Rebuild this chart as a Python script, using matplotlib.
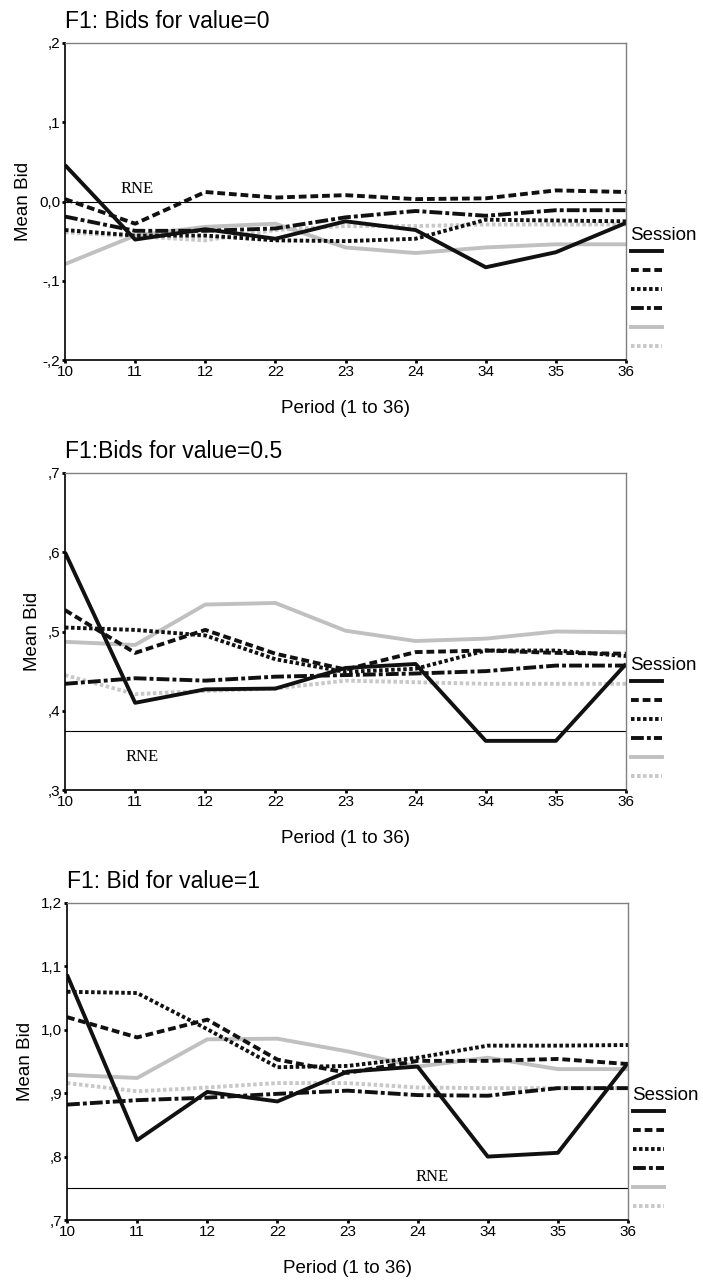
import matplotlib
matplotlib.use('Agg')
import matplotlib.pyplot as plt
from matplotlib.lines import Line2D

plt.rcParams['font.family'] = ['Liberation Sans', 'DejaVu Sans']

# ---------------- data ----------------
periods = ['10', '11', '12', '22', '23', '24', '34', '35', '36']

# value = 0
v0_s1 = [0.046, -0.048, -0.035, -0.047, -0.025, -0.036, -0.083, -0.064, -0.027]
v0_s2 = [0.003, -0.028, 0.012, 0.005, 0.008, 0.003, 0.004, 0.014, 0.012]
v0_s3 = [-0.036, -0.043, -0.043, -0.049, -0.050, -0.047, -0.023, -0.024, -0.025]
v0_s4 = [-0.019, -0.037, -0.037, -0.034, -0.020, -0.012, -0.018, -0.011, -0.011]
v0_s5 = [-0.079, -0.043, -0.032, -0.028, -0.058, -0.065, -0.058, -0.054, -0.054]
v0_s6 = [-0.039, -0.044, -0.049, -0.036, -0.031, -0.031, -0.029, -0.029, -0.029]

# value = 0.5
v5_s1 = [0.600, 0.410, 0.427, 0.428, 0.454, 0.459, 0.362, 0.362, 0.459]
v5_s2 = [0.527, 0.473, 0.502, 0.472, 0.452, 0.474, 0.476, 0.473, 0.472]
v5_s3 = [0.505, 0.502, 0.495, 0.465, 0.449, 0.453, 0.476, 0.476, 0.469]
v5_s4 = [0.434, 0.441, 0.438, 0.443, 0.445, 0.447, 0.450, 0.457, 0.457]
v5_s5 = [0.487, 0.483, 0.534, 0.536, 0.501, 0.488, 0.491, 0.500, 0.499]
v5_s6 = [0.445, 0.421, 0.425, 0.428, 0.438, 0.436, 0.434, 0.434, 0.434]

# value = 1
v1_s1 = [1.087, 0.826, 0.902, 0.887, 0.934, 0.942, 0.800, 0.806, 0.948]
v1_s2 = [1.020, 0.988, 1.016, 0.953, 0.932, 0.951, 0.951, 0.954, 0.946]
v1_s3 = [1.060, 1.058, 1.001, 0.941, 0.943, 0.956, 0.975, 0.975, 0.976]
v1_s4 = [0.882, 0.889, 0.893, 0.899, 0.904, 0.897, 0.896, 0.908, 0.908]
v1_s5 = [0.929, 0.924, 0.985, 0.986, 0.966, 0.942, 0.956, 0.938, 0.938]
v1_s6 = [0.916, 0.903, 0.909, 0.916, 0.916, 0.909, 0.908, 0.908, 0.908]

titles = ['F1: Bids for value=0', 'F1:Bids for value=0.5', 'F1: Bid for value=1']
rne_values = [0.0, 0.375, 0.75]
rne_label_pos = [(1.03, 0.016), (1.1, 0.342), (5.2, 0.768)]

yticks0 = [-0.2, -0.1, 0.0, 0.1, 0.2]
yticklabels0 = ['-,2', '-,1', '0,0', ',1', ',2']
yticks5 = [0.3, 0.4, 0.5, 0.6, 0.7]
yticklabels5 = [',3', ',4', ',5', ',6', ',7']
yticks1 = [0.7, 0.8, 0.9, 1.0, 1.1, 1.2]
yticklabels1 = [',7', ',8', ',9', '1,0', '1,1', '1,2']

panels = [
    ([v0_s1, v0_s2, v0_s3, v0_s4, v0_s5, v0_s6], yticks0, yticklabels0),
    ([v5_s1, v5_s2, v5_s3, v5_s4, v5_s5, v5_s6], yticks5, yticklabels5),
    ([v1_s1, v1_s2, v1_s3, v1_s4, v1_s5, v1_s6], yticks1, yticklabels1),
]

# ---------------- styles ----------------
BLACK = '#111111'
styles = [
    dict(color=BLACK, linestyle='-'),
    dict(color=BLACK, linestyle=(0, (2.0, 1.0))),
    dict(color=BLACK, linestyle=(0, (0.9, 0.65))),
    dict(color=BLACK, linestyle=(0, (3.3, 0.8, 1.0, 0.8))),
    dict(color='#c0c0c0', linestyle='-'),
    dict(color='#c8c8c8', linestyle=(0, (0.9, 0.65))),
]
LW = 2.8

W, H = 703, 1281
fig = plt.figure(figsize=(W / 100, H / 100), dpi=100)

lefts = [65, 65, 67]
ax_w = 561
tops = [43, 473, 903]
ax_h = 317

x = list(range(len(periods)))

for i, (series, yt, ytl) in enumerate(panels):
    top = tops[i]
    ax = fig.add_axes([lefts[i] / W, 1 - (top + ax_h) / H, ax_w / W, ax_h / H])
    for j in reversed(range(6)):
        ax.plot(x, series[j], lw=LW, solid_capstyle='butt', **styles[j])
    ax.axhline(rne_values[i], color='black', lw=0.8, zorder=1)
    ax.text(rne_label_pos[i][0], rne_label_pos[i][1], 'RNE', family='Liberation Serif',
            fontsize=12, ha='center', va='center')
    ax.set_xlim(0, len(periods) - 1)
    ax.set_ylim(yt[0], yt[-1])
    ax.set_xticks(x)
    ax.set_xticklabels(periods)
    ax.set_yticks(yt)
    ax.set_yticklabels(ytl)
    ax.tick_params(direction='out', length=2, width=2, labelsize=11, pad=1.5)
    for s in ['left', 'bottom']:
        ax.spines[s].set_color('black')
        ax.spines[s].set_linewidth(1.2)
    for s in ['top', 'right']:
        ax.spines[s].set_color('#808080')
        ax.spines[s].set_linewidth(1.0)
    ax.set_title(titles[i], loc='left', fontsize=16.5, pad=11)
    ax.set_xlabel('Period (1 to 36)', fontsize=13.5, labelpad=15)
    ax.set_ylabel('Mean Bid', fontsize=13.5, labelpad=5)

    # legend (title drawn as separate text so the spacing matches)
    ax.text(1.008, 1 - (235 - 43) / ax_h, 'Session', transform=ax.transAxes,
            fontsize=13.5, ha='left', va='center')
    handles = [Line2D([], [], lw=LW, **st) for st in styles]
    ax.legend(handles, [' '] * 6, loc='center left',
              bbox_to_anchor=(1.009, 1 - (299 - 43) / ax_h), frameon=False,
              borderpad=0, borderaxespad=0, handlelength=2.2, handletextpad=0,
              labelspacing=0.36, fontsize=10)

fig.savefig('out.png', dpi=100)
